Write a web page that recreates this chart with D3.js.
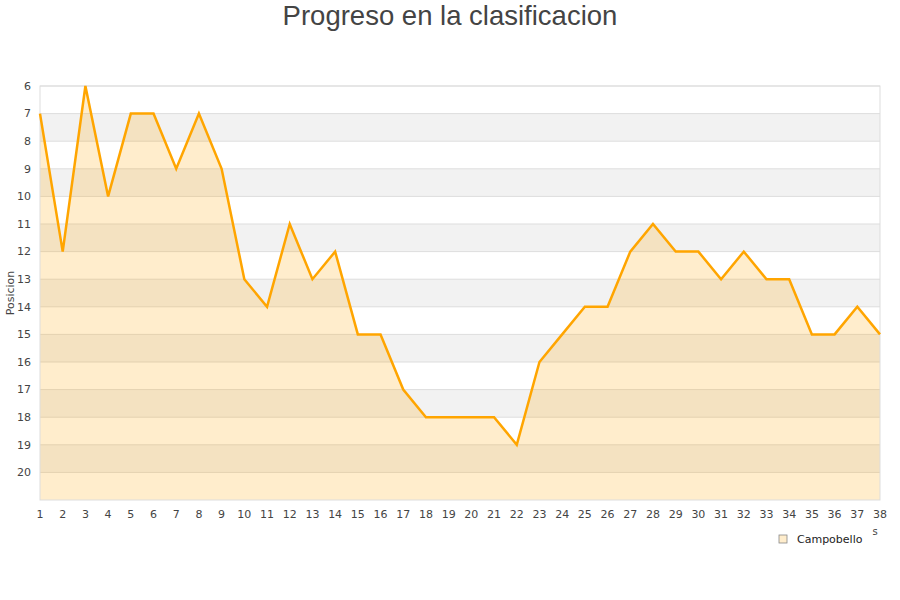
<!DOCTYPE html>
<html>
<head>
<meta charset="utf-8">
<script src="https://cdn.jsdelivr.net/npm/d3@7"></script>
<style>
  body { margin: 0; background: #fff; }
  text { font-family: "DejaVu Sans", sans-serif; }
</style>
</head>
<body>
<div id="chart"></div>
<script>
// Datos
const jornadas = d3.range(1, 39);
const posiciones = [7, 12, 6, 10, 7, 7, 9, 7, 9, 13, 14, 11, 13, 12, 15, 15, 17, 18, 18, 18,
                    18, 19, 16, 15, 14, 14, 12, 11, 12, 12, 13, 12, 13, 13, 15, 15, 14, 15];
const yTicks = d3.range(6, 21);
const equipo = "Campobello";

const width = 900;
const height = 600;
const margin = { top: 86, right: 20, bottom: 100, left: 40 };

const svg = d3.select("#chart").append("svg")
  .attr("width", width)
  .attr("height", height);

const x = d3.scaleLinear().domain([1, 38]).range([margin.left, width - margin.right]);
const y = d3.scaleLinear().domain([6, 21]).range([margin.top, height - margin.bottom]);

// Bandas alternas
svg.append("g")
  .selectAll("rect")
  .data(d3.range(6, 21))
  .join("rect")
  .attr("x", x(1))
  .attr("y", (d) => y(d))
  .attr("width", x(38) - x(1))
  .attr("height", (d) => y(d + 1) - y(d))
  .attr("fill", (d) => (d % 2 === 1 ? "#f2f2f2" : "#ffffff"));

// Lineas de la cuadricula
svg.append("g")
  .selectAll("line")
  .data(yTicks)
  .join("line")
  .attr("x1", x(1))
  .attr("x2", x(38))
  .attr("y1", (d) => y(d))
  .attr("y2", (d) => y(d))
  .attr("stroke", "#dddddd")
  .attr("stroke-width", 1);

// Area
const area = d3.area()
  .x((d, i) => x(jornadas[i]))
  .y0(y(21))
  .y1((d) => y(d));

svg.append("path")
  .datum(posiciones)
  .attr("d", area)
  .attr("fill", "rgba(255,165,0,0.2)");

// Bordes del grafico
svg.append("rect")
  .attr("x", x(1))
  .attr("y", y(6))
  .attr("width", x(38) - x(1))
  .attr("height", y(21) - y(6))
  .attr("fill", "none")
  .attr("stroke", "#dddddd");

// Linea
const line = d3.line()
  .x((d, i) => x(jornadas[i]))
  .y((d) => y(d));

svg.append("path")
  .datum(posiciones)
  .attr("d", line)
  .attr("fill", "none")
  .attr("stroke", "#ffa500")
  .attr("stroke-width", 2.5)
  .attr("stroke-linejoin", "miter");

// Etiquetas eje Y
svg.append("g")
  .selectAll("text")
  .data(yTicks)
  .join("text")
  .attr("x", 31)
  .attr("y", (d) => y(d))
  .attr("dy", "0.35em")
  .attr("text-anchor", "end")
  .style("font-size", "11px")
  .style("fill", "#444")
  .text((d) => d);

// Etiquetas eje X
svg.append("g")
  .selectAll("text")
  .data(jornadas)
  .join("text")
  .attr("x", (d) => x(d))
  .attr("y", 518)
  .attr("text-anchor", "middle")
  .style("font-size", "11px")
  .style("fill", "#444")
  .text((d) => d);

// Titulo eje Y
svg.append("text")
  .attr("transform", `translate(14, ${(y(6) + y(21)) / 2}) rotate(-90)`)
  .attr("text-anchor", "middle")
  .style("font-size", "11px")
  .style("fill", "#444")
  .text("Posicion");

// Resto del titulo eje X
svg.append("text")
  .attr("x", 875)
  .attr("y", 535)
  .attr("text-anchor", "middle")
  .style("font-size", "10px")
  .style("fill", "#444")
  .text("s");

// Titulo
svg.append("text")
  .attr("x", width / 2)
  .attr("y", 25)
  .attr("text-anchor", "middle")
  .style("font-family", "'Liberation Sans', Arial, sans-serif")
  .style("font-size", "27.5px")
  .style("fill", "#444")
  .text("Progreso en la clasificacion");

// Leyenda
const legend = svg.append("g").attr("transform", "translate(779, 535)");
legend.append("rect")
  .attr("width", 8)
  .attr("height", 8)
  .attr("fill", "#ffedcc")
  .attr("stroke", "#888")
  .attr("stroke-width", 0.8);
legend.append("text")
  .attr("x", 18)
  .attr("y", 8)
  .style("font-size", "11px")
  .style("fill", "#222")
  .text(equipo);
</script>
</body>
</html>
